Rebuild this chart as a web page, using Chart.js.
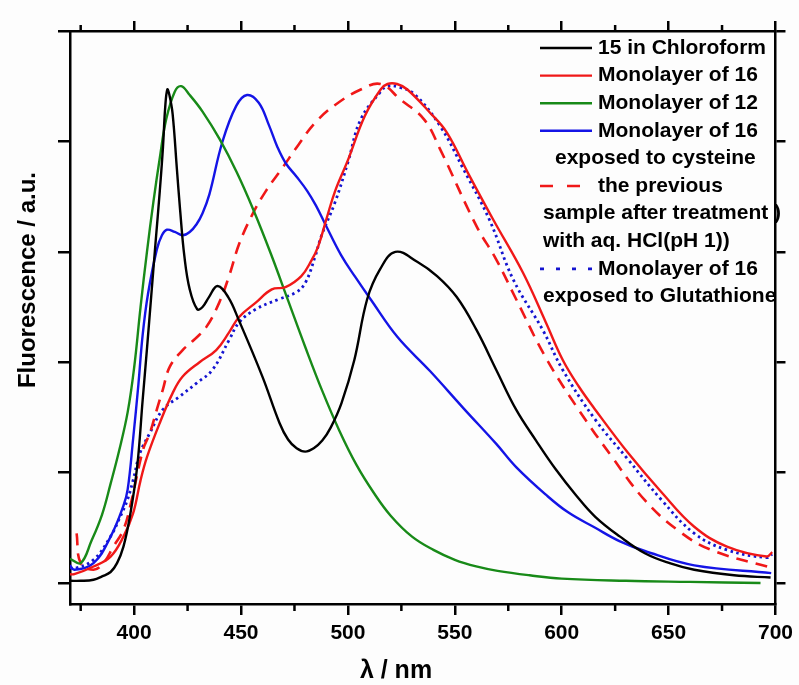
<!DOCTYPE html>
<html>
<head>
<meta charset="utf-8">
<script src="https://cdn.jsdelivr.net/npm/chart.js@4/dist/chart.umd.min.js"></script>
<style>
html,body{margin:0;padding:0;background:#fdfdfd;}
#wrap{width:799px;height:685px;position:relative;}
</style>
</head>
<body>
<div id="wrap"><canvas id="c" width="799" height="685"></canvas></div>
<script>
// ---- data (wavelength in nm, fluorescence in a.u.) ----
const xTickValues = [400, 450, 500, 550, 600, 650, 700];
const xMinorTicks = [375, 425, 475, 525, 575, 625, 675];
const yTickValues = [0, 1, 2, 3, 4, 5];

const seriesLabels = [
  "15 in Chloroform",
  "Monolayer of 16",
  "Monolayer of 12",
  "Monolayer of 16\nexposed to cysteine",
  "the previous\nsample after treatment )\nwith aq. HCl(pH 1))",
  "Monolayer of 16\nexposed to Glutathione"
];

const chloroformNm = [370,375,381,385,389,392,395,398,401.4,404,406,408,410,412,413.5,414.5,415.5,416.5,418,420,421.5,423.5,426,429.5,432,435,439,444,449,460,468,472,476,480,484,488,492,497,503,509,515,522.2,532.4,541.7,550.9,560.2,569.4,578.7,588,597.2,606.5,615.7,627.3,638.9,650.5,662,680.6,697.7];
const chloroformVal = [0.02,0.02,0.03,0.06,0.1,0.18,0.33,0.6,1.05,1.66,2.12,2.6,3.08,3.55,3.95,4.3,4.47,4.42,4.25,3.75,3.38,2.96,2.66,2.48,2.5,2.59,2.69,2.59,2.38,1.87,1.45,1.3,1.22,1.19,1.22,1.29,1.41,1.63,2.02,2.57,2.84,3.0,2.91,2.78,2.59,2.29,1.93,1.57,1.29,1.03,0.80,0.60,0.42,0.27,0.18,0.12,0.07,0.05];

const mono16Nm = [370,372,381,389,395,399.5,403,406,412,418,422.7,430.6,438.4,444.4,449.1,456.9,464.4,470.8,478.2,482.9,486.1,490,494,500,507.9,515.3,518.5,523,527.8,538.4,546.3,556,568,581.9,592.6,600.5,608,615.7,631,646.8,662,677.3,695.8,698.5];
const mono16Val = [0.08,0.08,0.15,0.24,0.42,0.63,0.93,1.14,1.45,1.72,1.87,2.0,2.11,2.27,2.41,2.54,2.66,2.68,2.78,2.92,3.05,3.3,3.55,3.83,4.23,4.47,4.52,4.52,4.47,4.26,4.08,3.72,3.29,2.81,2.36,2.02,1.78,1.57,1.18,0.82,0.51,0.33,0.24,0.28];

const mono12Nm = [370,375,380,385,389,393,397,400,403,406,409,412,415,419,422,426,432,440,448,456,464,472,480,488,496,504,512,520,530,540,550,560,570,585,600,630,660,693];
const mono12Val = [0.22,0.18,0.38,0.62,0.9,1.2,1.55,1.95,2.5,3.0,3.45,3.85,4.2,4.45,4.5,4.42,4.27,4.02,3.72,3.37,2.98,2.56,2.14,1.74,1.38,1.07,0.82,0.61,0.42,0.3,0.21,0.15,0.11,0.07,0.04,0.02,0.01,0.0];

const cysteineNm = [370,372,381,389,395,397,399.5,402,404,406.5,410.6,413,415.3,419,422.7,426,429.2,432,435.2,441.2,447.7,452.8,458.3,463,467,471,476,481,485,489.4,496.8,503.5,510.6,523.1,538.4,554.2,569.4,578.7,592.6,603,615.7,627,638.9,662,698];
const cysteineVal = [0.16,0.12,0.18,0.42,0.7,0.85,1.3,1.8,2.25,2.62,3.02,3.15,3.2,3.18,3.15,3.18,3.25,3.35,3.52,3.99,4.32,4.42,4.35,4.15,3.95,3.8,3.68,3.55,3.42,3.25,2.97,2.77,2.57,2.23,1.92,1.58,1.26,1.05,0.8,0.64,0.5,0.38,0.29,0.16,0.09];

const hclNm = [373.1,375,381,385.6,390.3,394.9,398.1,404.2,407.4,410.6,413.4,416.7,422.7,427.3,433.8,439.8,444.4,449.1,455.1,461.6,469,476.9,484.7,494,506,515.3,524.5,535.6,543.1,560.2,569.4,578.7,592.6,607.9,623.6,638.9,654.2,669.9,697.7];
const hclVal = [0.45,0.18,0.12,0.18,0.33,0.48,0.69,1.21,1.36,1.57,1.75,1.96,2.11,2.19,2.32,2.54,2.78,3.07,3.33,3.55,3.75,3.97,4.17,4.33,4.47,4.52,4.38,4.2,3.93,3.23,2.93,2.57,2.04,1.57,1.14,0.75,0.48,0.30,0.14];

const glutathioneNm = [370,372,381,388.9,393.5,396.8,399.5,402.8,407.4,413.4,421.3,429.2,436.6,444.4,449.1,456.9,467.6,475.5,480.1,484.7,487.5,494,500,506,515.3,518.5,524,531,543.1,554,566.2,577.3,591.2,600.5,615.7,631,646.8,662,677.3,695.8,698.5];
const glutathioneVal = [0.14,0.13,0.21,0.42,0.6,0.75,0.93,1.18,1.36,1.57,1.69,1.81,1.93,2.2,2.36,2.48,2.57,2.63,2.72,2.96,3.14,3.45,3.81,4.2,4.45,4.5,4.49,4.43,4.14,3.75,3.29,2.75,2.29,1.93,1.48,1.12,0.75,0.45,0.3,0.23,0.26];

// ---- build ----
const FONT = "'Liberation Sans', Arial, Helvetica, sans-serif";
const pts = (xs, ys) => xs.map((x, i) => ({x: x, y: ys[i]}));
const seriesX = [chloroformNm, mono16Nm, mono12Nm, cysteineNm, hclNm, glutathioneNm];
const seriesY = [chloroformVal, mono16Val, mono12Val, cysteineVal, hclVal, glutathioneVal];
const seriesColor = ['#000000', '#f01818', '#188a18', '#1414e6', '#f01818', '#1414d0'];
const seriesDash = [[], [], [], [], [12, 8], [2.5, 3.5]];
const legendDash = [[], [], [], [], [13, 14], [4, 12]];
const seriesWidth = [2.4, 2.4, 2.4, 2.4, 2.6, 2.8];

const datasets = seriesLabels.map((lab, i) => ({
  label: lab,
  data: pts(seriesX[i], seriesY[i]),
  borderColor: seriesColor[i],
  borderWidth: seriesWidth[i],
  borderDash: seriesDash[i],
  borderCapStyle: 'butt',
  pointRadius: 0,
  fill: false,
  tension: 0.4
}));

const frame = {
  id: 'frame',
  afterDraw(chart) {
    const ctx = chart.ctx;
    const xs = chart.scales.x, ca = chart.chartArea;
    ctx.save();
    ctx.strokeStyle = '#000';
    ctx.lineWidth = 2.5;
    xMinorTicks.forEach(v => {
      const px = xs.getPixelForValue(v);
      ctx.beginPath();
      ctx.moveTo(px, ca.bottom); ctx.lineTo(px, ca.bottom + 7);
      ctx.moveTo(px, ca.top); ctx.lineTo(px, ca.top - 6);
      ctx.stroke();
    });
    // axis titles
    ctx.fillStyle = '#000';
    ctx.textAlign = 'center';
    ctx.textBaseline = 'middle';
    ctx.font = 'bold 25px ' + FONT;
    ctx.fillText('λ / nm', 396, 671);
    ctx.translate(28, 280);
    ctx.rotate(-Math.PI / 2);
    ctx.font = 'bold 24px ' + FONT;
    ctx.fillText('Fluorescence / a.u.', 0, 0);
    ctx.restore();

    // legend
    ctx.save();
    ctx.font = 'bold 21px ' + FONT;
    ctx.textAlign = 'left';
    ctx.textBaseline = 'middle';
    ctx.fillStyle = '#000';
    const contX = [543, 543, 543, 555, 543, 543];
    let row = 0;
    chart.data.datasets.forEach((ds, i) => {
      const lines = ds.label.split('\n');
      const y = 48 + row * 27.6;
      ctx.save();
      ctx.strokeStyle = ds.borderColor;
      ctx.lineWidth = ds.borderWidth;
      ctx.setLineDash(legendDash[i]);
      ctx.beginPath();
      ctx.moveTo(540, y); ctx.lineTo(592, y);
      ctx.stroke();
      ctx.restore();
      ctx.fillText(lines[0], 598, y);
      row++;
      for (let k = 1; k < lines.length; k++) {
        ctx.fillText(lines[k], contX[i], 48 + row * 27.6);
        row++;
      }
    });
    ctx.restore();
  }
};

const axisGrid = (len) => ({drawOnChartArea: false, color: '#000', lineWidth: 2.5, tickLength: len});
const axisBorder = {display: true, color: '#000', width: 2.5};

new Chart(document.getElementById('c'), {
  type: 'line',
  data: {datasets: datasets},
  options: {
    responsive: false,
    animation: false,
    events: [],
    layout: {padding: 0},
    plugins: {legend: {display: false}, tooltip: {enabled: false}},
    scales: {
      x: {
        type: 'linear', position: 'bottom', min: 370, max: 700,
        afterBuildTicks: s => { s.ticks = xTickValues.map(v => ({value: v})); },
        ticks: {stepSize: 50, includeBounds: false, autoSkip: false, maxRotation: 0,
                color: '#000', padding: 6, font: {family: FONT, size: 21, weight: 'bold'}},
        grid: axisGrid(11), border: axisBorder,
        afterFit: s => { s.height = 81; }
      },
      x2: {
        type: 'linear', position: 'top', min: 370, max: 700,
        afterBuildTicks: s => { s.ticks = xTickValues.map(v => ({value: v})); },
        ticks: {display: false},
        grid: axisGrid(10), border: axisBorder,
        afterFit: s => { s.height = 31; }
      },
      y: {
        type: 'linear', position: 'left', min: -0.19, max: 5,
        afterBuildTicks: s => { s.ticks = yTickValues.map(v => ({value: v})); },
        ticks: {display: false},
        grid: axisGrid(12), border: axisBorder,
        afterFit: s => { s.width = 70; }
      },
      y2: {
        type: 'linear', position: 'right', min: -0.19, max: 5,
        afterBuildTicks: s => { s.ticks = yTickValues.map(v => ({value: v})); },
        ticks: {display: false},
        grid: axisGrid(10), border: axisBorder,
        afterFit: s => { s.width = 19; }
      }
    }
  },
  plugins: [frame]
});
</script>
</body>
</html>
